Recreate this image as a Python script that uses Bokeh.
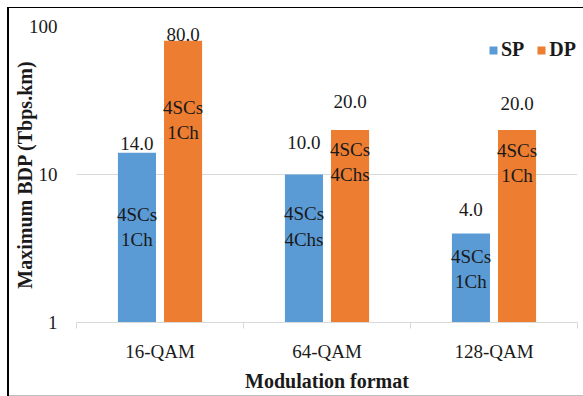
from bokeh.plotting import figure
from bokeh.models import Range1d, FixedTicker, ColumnDataSource, Legend, LegendItem
from bokeh.core.properties import value
from bokeh.embed import file_html
from bokeh.resources import INLINE

# ---- data ----
categories = ["16-QAM", "64-QAM", "128-QAM"]
sp_values = [14.0, 10.0, 4.0]
dp_values = [80.0, 20.0, 20.0]
sp_notes = ["4SCs\n1Ch", "4SCs\n4Chs", "4SCs\n1Ch"]
dp_notes = ["4SCs\n1Ch", "4SCs\n4Chs", "4SCs\n1Ch"]
y_ticks = [1, 10, 100]
y_tick_labels = ["1", "10", "100"]

# manual label placement (screen px): value labels lifted above bar top,
# configuration notes dropped below bar top
sp_value_lift = [9, 32, 24]
dp_value_lift = [6, 28, 26]
sp_note_drop = [74, 52, 36]
dp_note_drop = [79, 32, 33]

SP_COLOR = "#5B9BD5"
DP_COLOR = "#ED7D31"
TEXT = "#1a1a1a"
GRID = "#D9D9D9"
FONT = "Liberation Serif"

n = len(categories)
centers = [i + 0.5 for i in range(n)]
shift = 0.138
bar_w = 0.228

sp_src = ColumnDataSource(dict(
    x=[c - shift for c in centers], top=sp_values,
    lab=[f"{v:.1f}" for v in sp_values], note=sp_notes,
    lift=[-v for v in sp_value_lift], drop=sp_note_drop))
dp_src = ColumnDataSource(dict(
    x=[c + shift for c in centers], top=dp_values,
    lab=[f"{v:.1f}" for v in dp_values], note=dp_notes,
    lift=[-v for v in dp_value_lift], drop=dp_note_drop))

p = figure(width=576, height=389, x_range=Range1d(0, n), y_range=Range1d(1, 100),
           y_axis_type="log", output_backend="svg", toolbar_location=None,
           min_border_left=69, min_border_right=6, min_border_top=19, min_border_bottom=74)
p.border_fill_color = None
p.background_fill_color = "white"
p.outline_line_color = None
p.styles = {"margin-left": "7px", "margin-top": "7px",
            "box-shadow": "inset 2px 1px 0 0 #000000, inset 0 -1px 0 0 #bfbfbf"}

r_sp = p.vbar(x="x", top="top", bottom=1, width=bar_w, source=sp_src,
              fill_color=SP_COLOR, line_color=None)
r_dp = p.vbar(x="x", top="top", bottom=1, width=bar_w, source=dp_src,
              fill_color=DP_COLOR, line_color=None)

for src in (sp_src, dp_src):
    p.text(x="x", y="top", text="lab", y_offset="lift", source=src,
           text_align="center", text_baseline="middle",
           text_font=value(FONT), text_font_size="19px", text_color=TEXT)
    p.text(x="x", y="top", text="note", y_offset="drop", source=src,
           text_align="center", text_baseline="middle", text_line_height=1.2,
           text_font=value(FONT), text_font_size="19px", text_color=TEXT)

# x axis: labels at category centres, tick marks at category boundaries
xa = p.xaxis[0]
xa.ticker = FixedTicker(ticks=centers, minor_ticks=list(range(n + 1)))
xa.major_label_overrides = {c: lab for c, lab in zip(centers, categories)}
xa.axis_line_color = GRID
xa.major_tick_line_color = None
xa.major_tick_out = 0
xa.major_tick_in = 0
xa.minor_tick_line_color = GRID
xa.minor_tick_out = 6
xa.minor_tick_in = 0
xa.major_label_standoff = 12
xa.major_label_text_font = FONT
xa.major_label_text_font_size = "19px"
xa.major_label_text_color = TEXT
xa.axis_label = "Modulation format"
xa.axis_label_text_font = FONT
xa.axis_label_text_font_size = "20px"
xa.axis_label_text_font_style = "bold"
xa.axis_label_text_color = TEXT
xa.axis_label_standoff = 5

ya = p.yaxis[0]
ya.ticker = FixedTicker(ticks=y_ticks, minor_ticks=[])
ya.major_label_overrides = {t: s for t, s in zip(y_ticks, y_tick_labels)}
ya.axis_line_color = None
ya.major_tick_line_color = None
ya.minor_tick_line_color = None
ya.major_tick_out = 0
ya.major_tick_in = 0
ya.major_label_standoff = 19
ya.major_label_text_font = FONT
ya.major_label_text_font_size = "19px"
ya.major_label_text_color = TEXT
ya.axis_label = "Maximum BDP (Tbps.km)"
ya.axis_label_text_font = FONT
ya.axis_label_text_font_size = "20px"
ya.axis_label_text_font_style = "bold"
ya.axis_label_text_color = TEXT
ya.axis_label_standoff = -10

p.xgrid.grid_line_color = None
p.ygrid.ticker = FixedTicker(ticks=y_ticks, minor_ticks=[])
p.ygrid.grid_line_color = GRID

legend = Legend(items=[LegendItem(label="SP", renderers=[r_sp]),
                       LegendItem(label="DP", renderers=[r_dp])],
                location=(412, 261), orientation="horizontal")
legend.glyph_width = 10
legend.glyph_height = 10
legend.label_standoff = 3
legend.spacing = 12
legend.padding = 0
legend.margin = 0
legend.border_line_color = None
legend.background_fill_alpha = 0
legend.label_text_font = FONT
legend.label_text_font_size = "20px"
legend.label_text_font_style = "bold"
legend.label_text_color = TEXT
p.add_layout(legend)

open("out.html", "w").write(file_html(p, INLINE))
